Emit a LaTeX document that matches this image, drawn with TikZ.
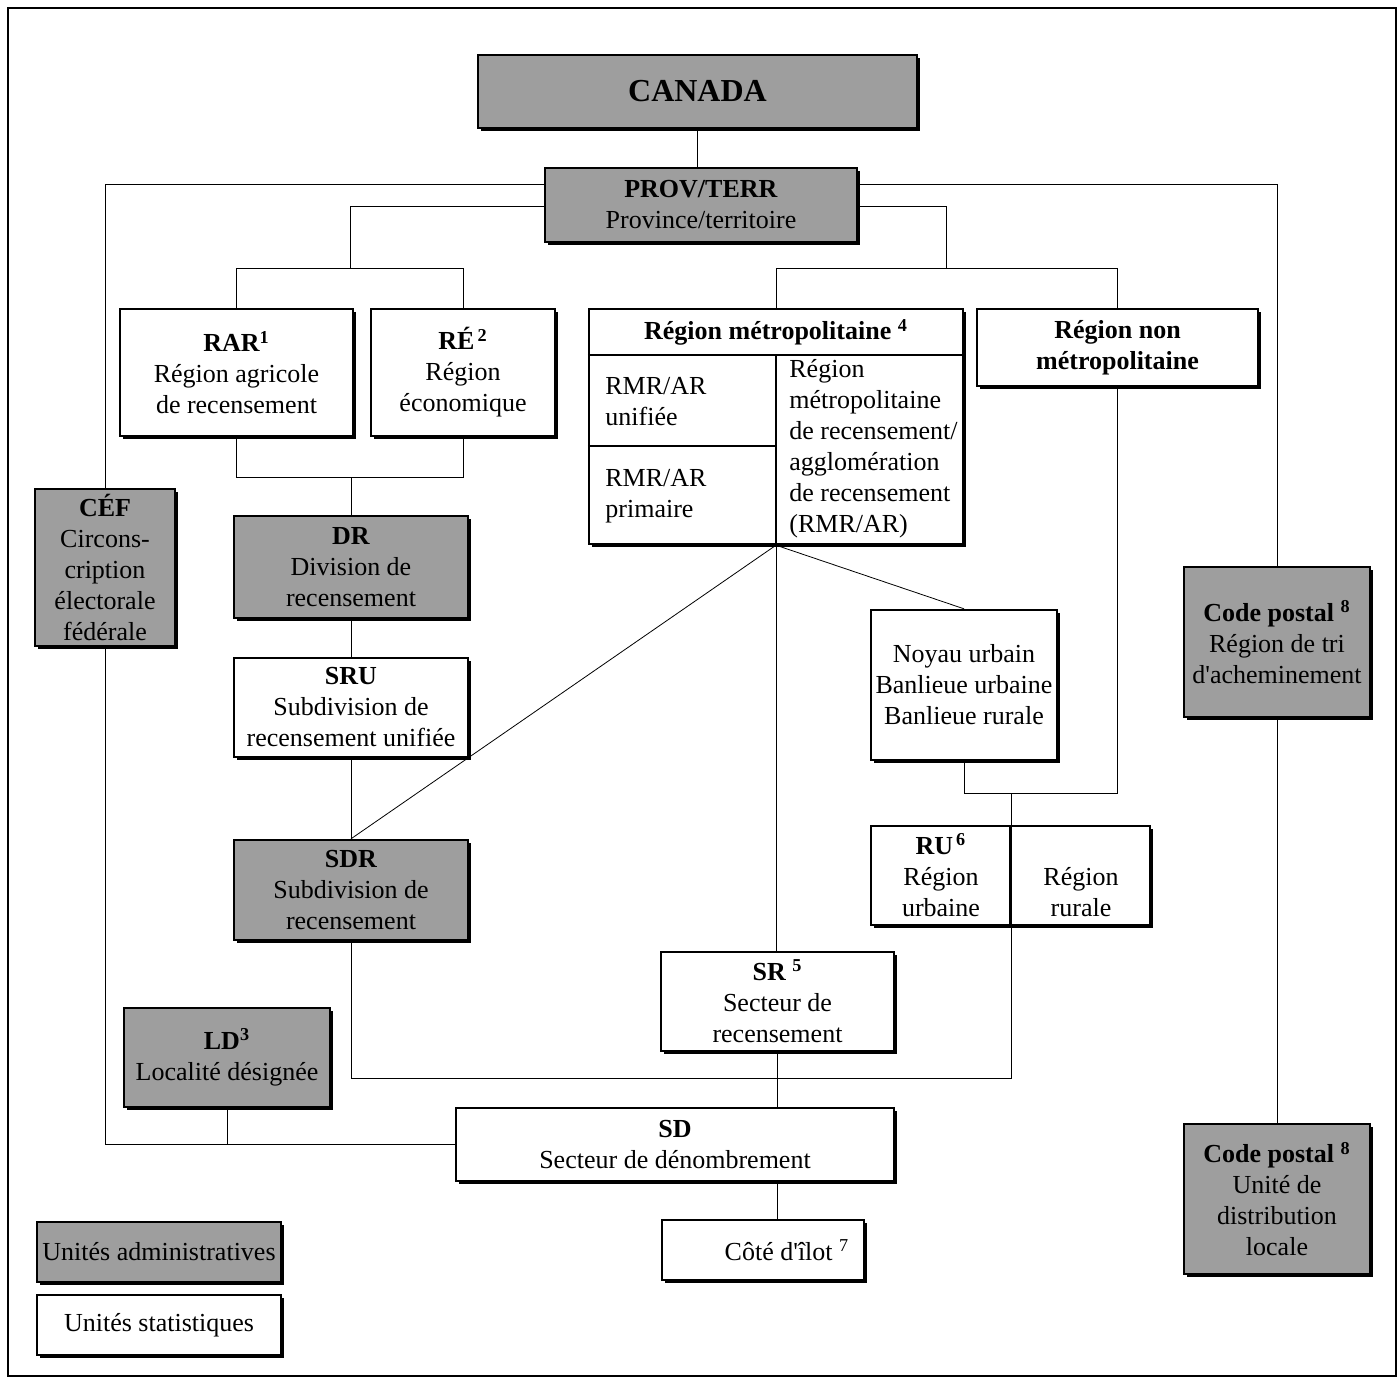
\documentclass[tikz,border=0pt]{standalone}
\usepackage{fontspec}
\setmainfont{Liberation Serif}
\usetikzlibrary{shadows,backgrounds}

\begin{document}
\begin{tikzpicture}[x=0.5pt,y=-0.5pt,
  every node/.style={font=\fontsize{13}{15.5}\selectfont,align=center,inner sep=0pt},
  unit/.style={draw,line width=1.2pt,fill=white,
    drop shadow={shadow xshift=1.5pt,shadow yshift=-1.5pt,fill=black,opacity=1}},
  adm/.style={unit,fill=black!38},
  sz/.style 2 args={minimum width=#1,minimum height=#2},
  link/.style={line width=1.15pt}]
\useasboundingbox (0,0) rectangle (1399,1378);
% frame
\draw[line width=0.9pt] (8,8) rectangle (1396,1376);

% top
\node[adm,sz={219.5pt}{36.5pt},font=\fontsize{16}{18}\selectfont\bfseries] (canada) at (697.5,91.5) {CANADA};
\node[adm,sz={156pt}{37pt}] (prov) at (701,205) {\textbf{PROV/TERR}\\Province/territoire};

% second row
\node[unit,sz={116.5pt}{63.5pt}] (rar) at (236.5,372.5) {\textbf{RAR\textsuperscript{1}}\\Région agricole\\de recensement};
\node[unit,sz={92pt}{63.5pt}] (re) at (463,372.5) {\textbf{RÉ\textsuperscript{\,2}}\\Région\\économique};
\node[unit,sz={187pt}{117.5pt}] (metro) at (776,426.5) {};
\node[unit,sz={140.5pt}{38.5pt}] (nonmetro) at (1117.5,347.5) {\textbf{Région non}\\\textbf{métropolitaine}};

% inside the metropolitan box
\draw[link] ([yshift=-23.5pt]metro.north west) -- ([yshift=-23.5pt]metro.north east);
\draw[link] ([yshift=-23.5pt]metro.north) -- (metro.south);
\draw[link] ([yshift=-69pt]metro.north west) -- ([yshift=-69pt]metro.north);
\node (metrohead) at (776,332.5) {\textbf{Région métropolitaine \textsuperscript{4}}};
\node[anchor=west,align=left] (unifiee) at (605,402) {RMR/AR\\unifiée};
\node[anchor=west,align=left] (primaire) at (605,496) {RMR/AR\\primaire};
\node[anchor=west,align=left] (rmr) at (789,449) {Région\\métropolitaine\\de recensement/\\agglomération\\de recensement\\(RMR/AR)};

% left column
\node[adm,sz={70pt}{78.5pt}] (cef) at (105,567.5) {\textbf{CÉF}\\Circons-\\cription\\électorale\\fédérale};
\node[adm,sz={117pt}{51pt}] (dr) at (351,567) {\textbf{DR}\\Division de\\recensement};
\node[unit,sz={117pt}{49.5pt}] (sru) at (351,707.5) {\textbf{SRU}\\Subdivision de\\recensement unifiée};
\node[adm,sz={117pt}{50pt}] (sdr) at (351,890) {\textbf{SDR}\\Subdivision de\\recensement};
\node[adm,sz={103pt}{49.5pt}] (ld) at (227,1057.5) {\textbf{LD\textsuperscript{3}}\\Localité désignée};

% right part
\node[unit,sz={93pt}{75pt}] (noyau) at (964,685) {Noyau urbain\\Banlieue urbaine\\Banlieue rurale};
\node[unit,sz={139.5pt}{49.5pt}] (ru) at (1010.5,875.5) {};
\draw[link] (ru.north) -- (ru.south);
\node (urb) at (941,875) {\textbf{RU\textsuperscript{\,6}}\\Région\\urbaine};
\node (rur) at (1081,892) {Région\\rurale};
\node[adm,sz={93pt}{75pt}] (rta) at (1277,642) {\textbf{Code postal \textsuperscript{8}}\\Région de tri\\d\textquotesingle acheminement};
\node[adm,sz={93pt}{75pt}] (udl) at (1277,1199) {\textbf{Code postal \textsuperscript{8}}\\Unité de\\distribution\\locale};

% bottom
\node[unit,sz={116.5pt}{49.5pt}] (sr) at (777.5,1001.5) {\textbf{SR \textsuperscript{5}}\\Secteur de\\recensement};
\node[unit,sz={219pt}{36.5pt}] (sd) at (675,1144.5) {\textbf{SD}\\Secteur de dénombrement};
\node[unit,sz={101pt}{30pt}] (cote) at (763,1250) {\hspace*{24pt}Côté d\textquotesingle îlot \textsuperscript{7}};

% legend
\node[adm,sz={122pt}{30pt}] (legadm) at (159,1252) {Unités administratives};
\node[unit,sz={122pt}{30pt}] (legstat) at (159,1325) {Unités statistiques};

% connectors
\begin{scope}[on background layer,link]
\coordinate (provL) at (105,184);
\coordinate (provR) at (1277,184);
\coordinate (tl) at (350,206);
\coordinate (tlb) at (350,268);
\coordinate (tr) at (946,206);
\coordinate (trb) at (946,268);
\coordinate (rb) at (351,477);
\coordinate (nb) at (1011,793);
\coordinate (sb) at (1011,1078);
\draw (canada.south) -- (canada.south |- prov.north);
\draw (prov.west |- provL) -- (provL) -- (provL |- sd.west) -- (sd.west);
\draw (ld.south) -- (ld.south |- sd.west);
\draw (prov.east |- provR) -- (provR) -- (provR |- udl.north);
\draw (prov.west |- tl) -- (tl) -- (tlb);
\draw (rar.north) |- (tlb) -| (re.north);
\draw (prov.east |- tr) -- (tr) -- (trb);
\draw (metro.north) |- (trb) -| (nonmetro.north);
\draw (rar.south) |- (rb) -| (re.south);
\draw (rb) -- (dr.north);
\draw (dr) -- (sru);
\draw (sru) -- (sdr);
\draw (metro.south) -- (sdr.north);
\draw (metro.south) -- (noyau.north);
\draw (metro.south) -- (metro.south |- sr.north);
\draw (noyau.south) |- (nb) -| (nonmetro.south);
\draw (nb) -- (sb) -| (sdr.south);
\draw (sr.south) -- (sr.south |- sd.north);
\draw (sr.south |- sd.south) -- (sr.south |- cote.north);
\end{scope}
\end{tikzpicture}
\end{document}
